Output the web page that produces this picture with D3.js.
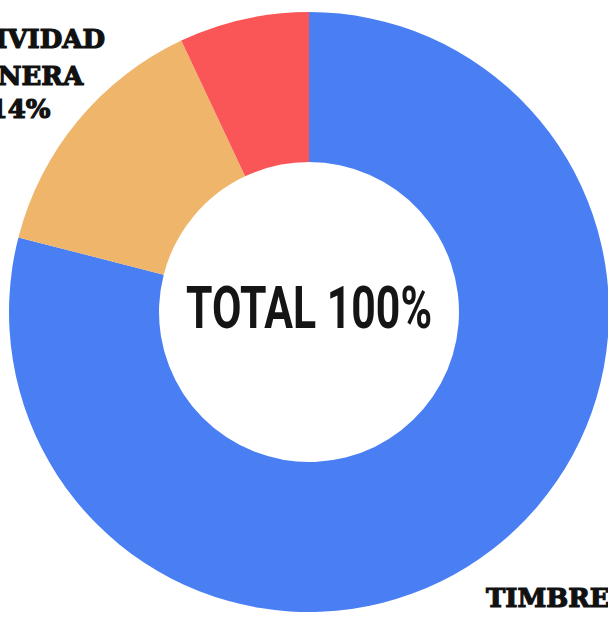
<!DOCTYPE html>
<html>
<head>
<meta charset="utf-8">
<script src="https://cdn.jsdelivr.net/npm/d3@7"></script>
<style>
  html, body { margin: 0; padding: 0; background: #fff; overflow: hidden; }
</style>
</head>
<body>
<div id="chart"></div>
<script>
// datos
var categorias = ["TIMBRES", "ACTIVIDAD MINERA", "OTROS"];
var valores = [79, 14, 7];
var colores = ["#4a7ff4", "#efb66b", "#fb5657"];
var etiquetas = [["TIMBRES", "79%"], ["ACTIVIDAD", "MINERA", "14%"], null];
var textoCentro = "TOTAL 100%";

class donaTotal {
    constructor(params) {
        var me = this;
        this.cont = params.cont ? params.cont : d3.select("#" + params.idCont);
        this.width = params.width ? params.width : 608;
        this.height = params.height ? params.height : 618;
        let svg, container, cx = 309, cy = 312, rOut = 300, rIn = 150;

        this.init = function () {
            svg = this.cont.append("svg")
                .attr("width", me.width)
                .attr("height", me.height);
            container = svg.append("g").attr("transform", "translate(" + cx + "," + cy + ")");

            setArcs();
            setCentro();
            setEtiquetas();
        }

        function setArcs() {
            // arcos de la dona
            let pie = d3.pie().sort(null).value(d => d)
                , arc = d3.arc().innerRadius(rIn).outerRadius(rOut);
            container.selectAll("path").data(pie(valores)).enter()
                .append("path")
                .attr("d", arc)
                .attr("fill", (d, i) => colores[i]);
        }

        function setCentro() {
            container.append("text")
                .attr("x", 0)
                .attr("y", 328 - cy)
                .attr("text-anchor", "middle")
                .attr("font-family", "Roboto")
                .attr("font-weight", 700)
                .attr("font-size", 60)
                .attr("textLength", 246)
                .attr("lengthAdjust", "spacingAndGlyphs")
                .attr("fill", "#151515")
                .text(textoCentro);
        }

        function setEtiquetas() {
            // etiquetas en serif negra
            let g = svg.append("g")
                .attr("font-family", "DejaVu Serif")
                .attr("font-weight", "bold")
                .attr("font-size", 26)
                .attr("fill", "#111")
                .attr("stroke", "#111")
                .attr("stroke-width", 1.2);

            // actividad minera (arriba a la izquierda)
            let t1 = g.append("text").attr("text-anchor", "middle");
            let ys = [48, 85, 118];
            etiquetas[1].forEach((l, i) => {
                t1.append("tspan").attr("x", 20).attr("y", ys[i]).text(l);
            });

            // timbres (abajo a la derecha)
            g.append("text")
                .attr("x", 486)
                .attr("y", 607)
                .text(etiquetas[0][0]);
        }

        me.init();
    }
}

new donaTotal({ idCont: "chart", width: 608, height: 618 });
</script>
</body>
</html>
